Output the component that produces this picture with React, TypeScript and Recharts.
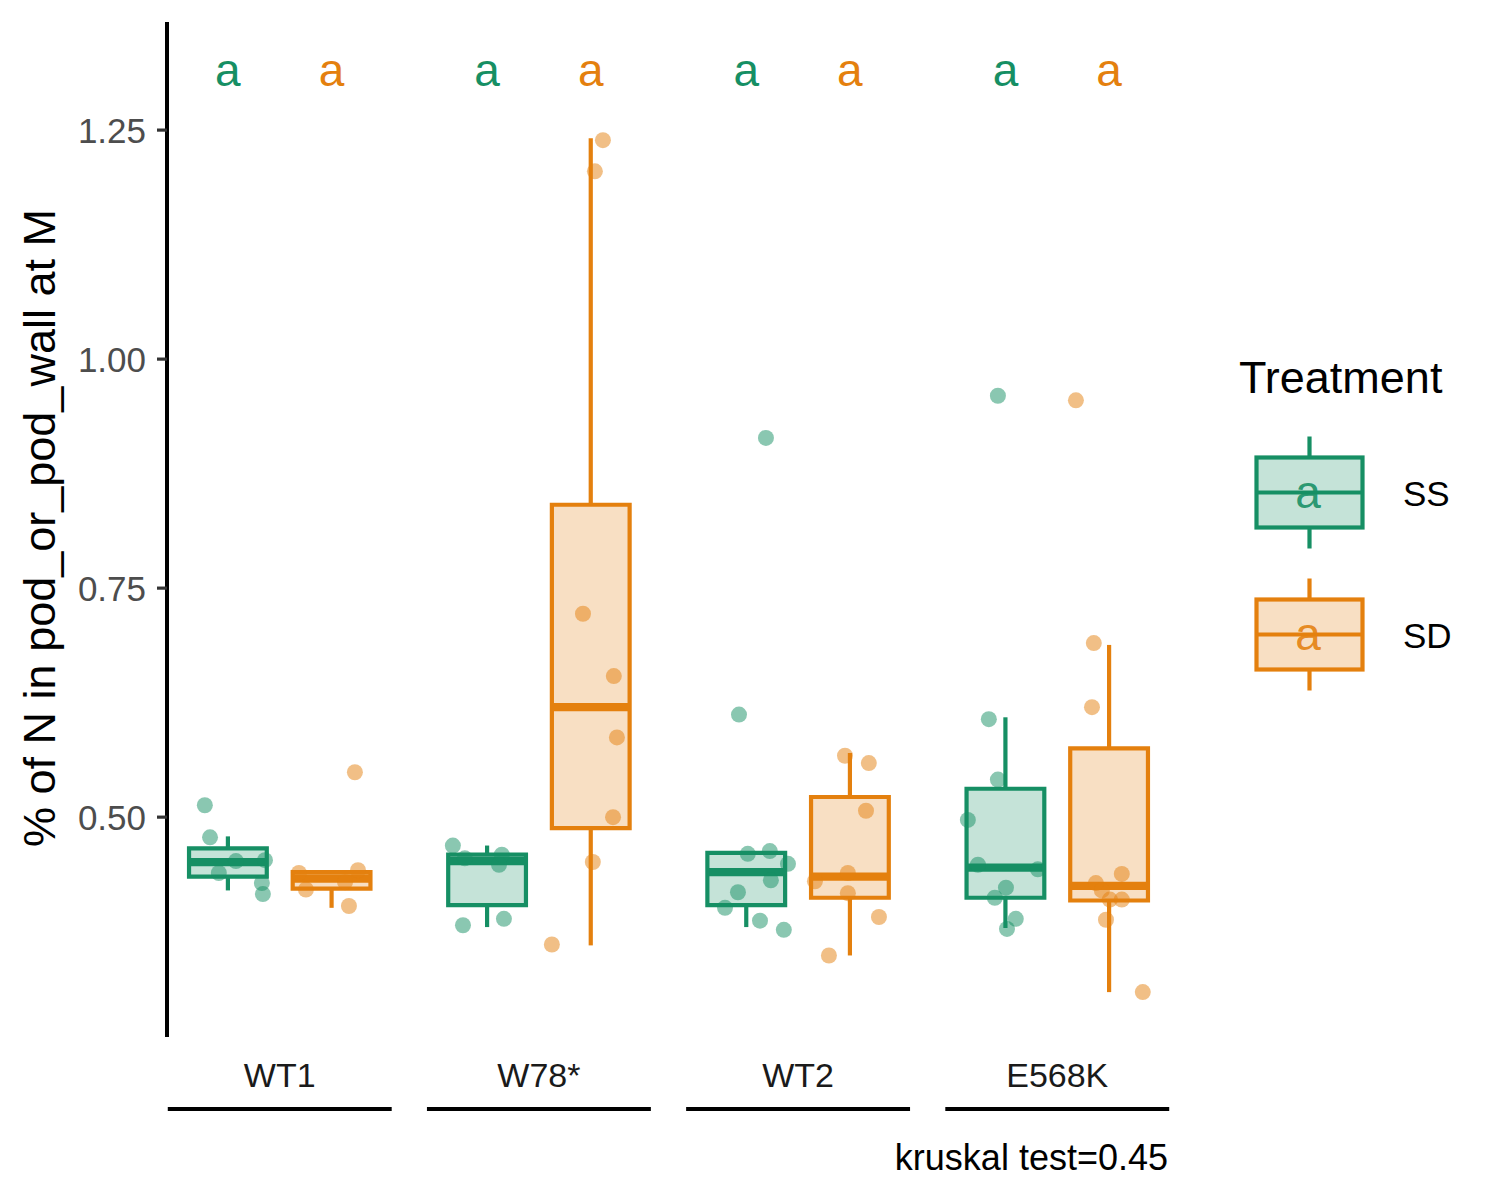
import React from 'react';
import { ComposedChart, XAxis, YAxis, Scatter, ReferenceArea, ReferenceLine } from 'recharts';

const FONT = '"Liberation Sans", Arial, Helvetica, sans-serif';

// ---- categories ----
const groups = ['WT1', 'W78*', 'WT2', 'E568K'];
const treatments = ['SS', 'SD'];
const treatmentColors: Record<string, string> = { SS: '#168F64', SD: '#E4800E' };
const dodgeOffset: Record<string, number> = { SS: -0.2, SD: 0.2 };
const boxHalfWidth = 0.15;

// ---- box statistics (per group) ----
const ssLower = [0.42, 0.38, 0.38, 0.379];
const ssQ1 = [0.435, 0.404, 0.404, 0.412];
const ssMedian = [0.451, 0.452, 0.44, 0.445];
const ssQ3 = [0.466, 0.459, 0.461, 0.531];
const ssUpper = [0.479, 0.469, 0.463, 0.609];

const sdLower = [0.401, 0.36, 0.349, 0.309];
const sdQ1 = [0.422, 0.488, 0.412, 0.409];
const sdMedian = [0.433, 0.62, 0.435, 0.425];
const sdQ3 = [0.44, 0.841, 0.522, 0.575];
const sdUpper = [0.44, 1.241, 0.57, 0.688];

// ---- observations (per group) and their jitter offsets ----
const ssValues = [
  [0.513, 0.478, 0.452, 0.439, 0.453, 0.428, 0.416],
  [0.469, 0.455, 0.459, 0.448, 0.382, 0.389],
  [0.914, 0.612, 0.46, 0.463, 0.449, 0.431, 0.418, 0.401, 0.387, 0.377],
  [0.96, 0.607, 0.541, 0.497, 0.448, 0.443, 0.423, 0.412, 0.389, 0.378],
];
const ssJitter = [
  [-0.289, -0.269, -0.169, -0.235, -0.057, -0.069, -0.065],
  [-0.332, -0.286, -0.143, -0.154, -0.293, -0.135],
  [-0.124, -0.228, -0.194, -0.109, -0.039, -0.105, -0.232, -0.282, -0.147, -0.055],
  [-0.229, -0.264, -0.229, -0.345, -0.306, -0.075, -0.198, -0.241, -0.16, -0.194],
];
const sdValues = [
  [0.549, 0.439, 0.442, 0.421, 0.429, 0.403],
  [1.239, 1.205, 0.722, 0.654, 0.587, 0.5, 0.451, 0.361],
  [0.567, 0.559, 0.507, 0.439, 0.43, 0.417, 0.391, 0.349],
  [0.955, 0.69, 0.62, 0.438, 0.428, 0.42, 0.41, 0.41, 0.388, 0.309],
];
const sdJitter = [
  [0.29, 0.074, 0.302, 0.101, 0.252, 0.267],
  [0.247, 0.216, 0.17, 0.289, 0.301, 0.286, 0.208, 0.05],
  [0.181, 0.273, 0.262, 0.192, 0.065, 0.192, 0.312, 0.119],
  [0.072, 0.141, 0.134, 0.249, 0.149, 0.172, 0.203, 0.249, 0.188, 0.33],
];

// ---- significance letters ----
const ssLetters = ['a', 'a', 'a', 'a'];
const sdLetters = ['a', 'a', 'a', 'a'];
const letterY = 1.298;

// ---- axes ----
const yTicks = [0.5, 0.75, 1.0, 1.25];
const yDomain = [0.26, 1.368];
const xTicks = [1, 2, 3, 4];
const xDomain = [0.565, 4.435];
const bracketHalf = 0.432;

const yTitle = '% of N in pod_or_pod_wall at M';
const legendTitle = 'Treatment';
const testLabel = 'kruskal test=0.45';

// ---- layout ----
const W = 1500;
const H = 1200;
const MARGIN = { top: 22, right: 330, bottom: 53, left: 0 };
const Y_AXIS_W = 167;
const X_AXIS_H = 110;
const PLOT_W = W - MARGIN.right - MARGIN.left - Y_AXIS_W;
const PX_PER_UNIT = PLOT_W / (xDomain[1] - xDomain[0]);
const LINE_W = 4.2;
const MEDIAN_W = 8.3;

const stats: Record<string, { lower: number[]; q1: number[]; median: number[]; q3: number[]; upper: number[] }> = {
  SS: { lower: ssLower, q1: ssQ1, median: ssMedian, q3: ssQ3, upper: ssUpper },
  SD: { lower: sdLower, q1: sdQ1, median: sdMedian, q3: sdQ3, upper: sdUpper },
};

const buildPoints = (values: number[][], jitter: number[][]) =>
  values.flatMap((vals, gi) => vals.map((v, k) => ({ x: gi + 1 + jitter[gi][k], y: v })));

const ssPoints = buildPoints(ssValues, ssJitter);
const sdPoints = buildPoints(sdValues, sdJitter);

const ssLetterData = ssLetters.map((l, gi) => ({ x: gi + 1 + dodgeOffset.SS, y: letterY, label: l }));
const sdLetterData = sdLetters.map((l, gi) => ({ x: gi + 1 + dodgeOffset.SD, y: letterY, label: l }));

const GroupTick = (props: any) => {
  const { x, y, payload } = props;
  const i = Math.round(payload.value) - 1;
  const half = bracketHalf * PX_PER_UNIT;
  return (
    <g>
      <text x={x} y={y + 50} textAnchor="middle" fontSize={34} fill="#1A1A1A" fontFamily={FONT}>
        {groups[i]}
      </text>
      <line x1={x - half} x2={x + half} y1={y + 72} y2={y + 72} stroke="#000" strokeWidth={4} />
    </g>
  );
};

const pointShape = (color: string) => (props: any) => (
  <circle cx={props.cx} cy={props.cy} r={8} fill={color} fillOpacity={0.5} stroke="none" />
);

const letterShape = (color: string) => (props: any) => (
  <text x={props.cx} y={props.cy} textAnchor="middle" fontSize={46} fill={color} fontFamily={FONT}>
    {props.payload.label}
  </text>
);

function boxElements() {
  const out: React.ReactNode[] = [];
  treatments.forEach((t) => {
    const s = stats[t];
    const c = treatmentColors[t];
    groups.forEach((g, gi) => {
      const cx = gi + 1 + dodgeOffset[t];
      out.push(
        <ReferenceLine
          key={`wu-${t}-${gi}`}
          segment={[{ x: cx, y: s.q3[gi] }, { x: cx, y: s.upper[gi] }]}
          stroke={c}
          strokeWidth={LINE_W}
          ifOverflow="visible"
        />,
        <ReferenceLine
          key={`wl-${t}-${gi}`}
          segment={[{ x: cx, y: s.lower[gi] }, { x: cx, y: s.q1[gi] }]}
          stroke={c}
          strokeWidth={LINE_W}
          ifOverflow="visible"
        />,
        <ReferenceArea
          key={`box-${t}-${gi}`}
          x1={cx - boxHalfWidth}
          x2={cx + boxHalfWidth}
          y1={s.q1[gi]}
          y2={s.q3[gi]}
          fill={c}
          fillOpacity={0.25}
          stroke={c}
          strokeWidth={LINE_W}
          strokeOpacity={1}
          ifOverflow="visible"
        />,
        <ReferenceLine
          key={`med-${t}-${gi}`}
          segment={[{ x: cx - boxHalfWidth, y: s.median[gi] }, { x: cx + boxHalfWidth, y: s.median[gi] }]}
          stroke={c}
          strokeWidth={MEDIAN_W}
          ifOverflow="visible"
        />
      );
    });
  });
  return out;
}

function LegendKey({ y, color, label }: { y: number; color: string; label: string }) {
  const x0 = 1256.5;
  const x1 = 1362.5;
  const xm = 1309.5;
  return (
    <g>
      <line x1={xm} x2={xm} y1={y - 56} y2={y + 56} stroke={color} strokeWidth={LINE_W} />
      <rect x={x0} y={y - 35} width={x1 - x0} height={70} fill="#fff" />
      <rect x={x0} y={y - 35} width={x1 - x0} height={70} fill={color} fillOpacity={0.25} stroke={color} strokeWidth={LINE_W} />
      <line x1={x0} x2={x1} y1={y} y2={y} stroke={color} strokeWidth={LINE_W} />
      <text x={1308} y={y + 15} textAnchor="middle" fontSize={46} fill={color} fillOpacity={0.9} fontFamily={FONT}>
        a
      </text>
      <text x={1403} y={y + 13} fontSize={35} fill="#000" fontFamily={FONT}>
        {label}
      </text>
    </g>
  );
}

export default function App() {
  return (
    <div style={{ position: 'absolute', left: 0, top: 0, width: W, height: H, background: '#fff', fontFamily: FONT }}>
      <ComposedChart width={W} height={H} margin={MARGIN}>
        <XAxis
          type="number"
          dataKey="x"
          domain={xDomain}
          ticks={xTicks}
          allowDataOverflow
          axisLine={false}
          tickLine={false}
          tickSize={0}
          tickMargin={0}
          height={X_AXIS_H}
          tick={<GroupTick />}
          interval={0}
        />
        <YAxis
          type="number"
          domain={yDomain}
          ticks={yTicks}
          allowDataOverflow
          width={Y_AXIS_W}
          axisLine={{ stroke: '#000', strokeWidth: 4 }}
          tickLine={{ stroke: '#333', strokeWidth: 3.2 }}
          tickSize={10}
          tickMargin={11}
          tick={{ fill: '#4D4D4D', fontSize: 35, fontFamily: FONT }}
          tickFormatter={(v: number) => v.toFixed(2)}
          interval={0}
        />
        {boxElements()}
        <Scatter data={ssPoints} dataKey="y" isAnimationActive={false} shape={pointShape(treatmentColors.SS)} />
        <Scatter data={sdPoints} dataKey="y" isAnimationActive={false} shape={pointShape(treatmentColors.SD)} />
        <Scatter data={ssLetterData} dataKey="y" isAnimationActive={false} shape={letterShape(treatmentColors.SS)} />
        <Scatter data={sdLetterData} dataKey="y" isAnimationActive={false} shape={letterShape(treatmentColors.SD)} />
      </ComposedChart>
      <svg
        width={W}
        height={H}
        style={{ position: 'absolute', left: 0, top: 0, pointerEvents: 'none' }}
        fontFamily={FONT}
      >
        <text transform="translate(55,528) rotate(-90)" textAnchor="middle" fontSize={45} fill="#000">
          {yTitle}
        </text>
        <text x={1239} y={393} fontSize={45} fill="#000">
          {legendTitle}
        </text>
        <LegendKey y={492.5} color={treatmentColors.SS} label={treatments[0]} />
        <LegendKey y={634.5} color={treatmentColors.SD} label={treatments[1]} />
        <text x={1168} y={1170} textAnchor="end" fontSize={36} fill="#000">
          {testLabel}
        </text>
      </svg>
    </div>
  );
}
